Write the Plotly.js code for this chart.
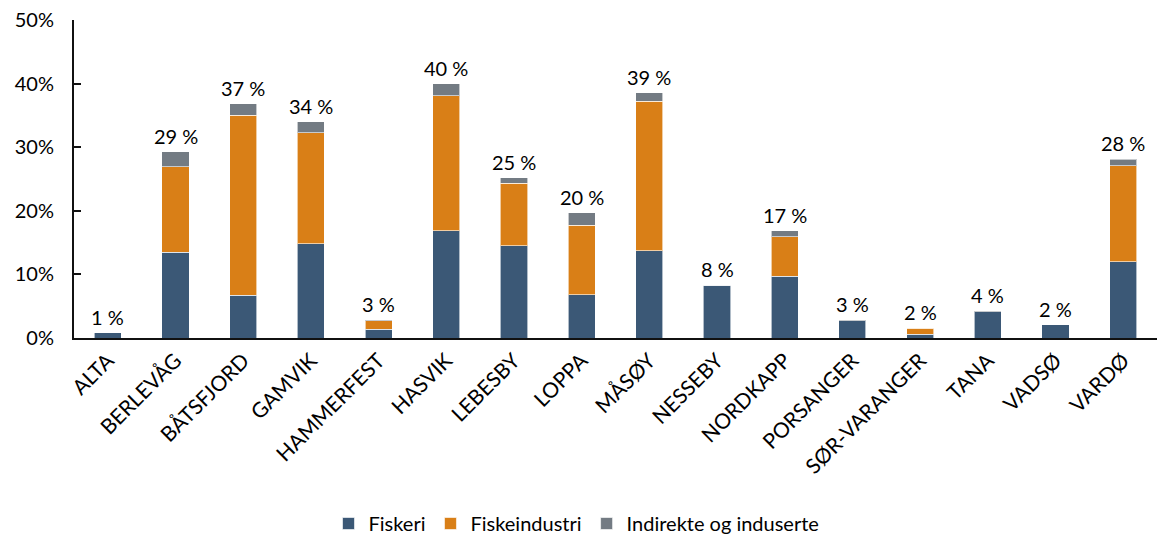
<!DOCTYPE html>
<html>
<head>
<meta charset="utf-8">
<script src="https://cdn.plot.ly/plotly-3.0.1.min.js"></script>
<style>html,body{margin:0;padding:0;background:#fff;}#chart{width:1157px;height:543px;}</style>
</head>
<body>
<div id="chart"></div>
<script>
const categories = ["ALTA","BERLEVÅG","BÅTSFJORD","GAMVIK","HAMMERFEST","HASVIK","LEBESBY","LOPPA","MÅSØY","NESSEBY","NORDKAPP","PORSANGER","SØR-VARANGER","TANA","VADSØ","VARDØ"];
const fiskeri       = [0.008,0.135,0.067,0.148,0.014,0.169,0.145,0.068,0.137,0.083,0.097,0.027,0.006,0.041,0.021,0.120];
const fiskeindustri = [0.000,0.134,0.283,0.175,0.013,0.212,0.098,0.109,0.235,0.000,0.062,0.000,0.009,0.000,0.000,0.151];
const indirekte     = [0.000,0.0235,0.018,0.017,0.0015,0.019,0.009,0.020,0.014,0.000,0.010,0.001,0.0015,0.0015,0.000,0.010];
const totalLabels   = ["1 %","29 %","37 %","34 %","3 %","40 %","25 %","20 %","39 %","8 %","17 %","3 %","2 %","4 %","2 %","28 %"];
const yTickVals = [0,0.1,0.2,0.3,0.4,0.5];
const yTickText = ["0%","10%","20%","30%","40%","50%"];

const totals = categories.map((c,i)=>fiskeri[i]+fiskeindustri[i]+indirekte[i]);
const font = "Lato, 'Open Sans', sans-serif";
const line = {color:"rgba(255,255,255,0.6)", width:1};
const traces = [
  {type:"bar", name:"Fiskeri", x:categories, y:fiskeri, marker:{color:"#3B5876", line:line}, hoverinfo:"skip"},
  {type:"bar", name:"Fiskeindustri", x:categories, y:fiskeindustri, marker:{color:"#D97F17", line:line}, hoverinfo:"skip"},
  {type:"bar", name:"Indirekte og induserte", x:categories, y:indirekte, marker:{color:"#737B83", line:line}, hoverinfo:"skip"}
];
const annotations = categories.map((c,i)=>({
  x:c, y:totals[i], xref:"x", yref:"y", text:totalLabels[i], showarrow:false,
  yanchor:"bottom", yshift:2, font:{family:font, size:20, color:"#000"}
}));
const layout = {
  width:1157, height:543,
  margin:{l:74, r:0, t:20, b:202.5},
  barmode:"stack", bargap:0.6,
  paper_bgcolor:"#fff", plot_bgcolor:"#fff",
  font:{family:font, size:20, color:"#000"},
  annotations:annotations,
  xaxis:{type:"category", range:[-0.5,15.5], showline:true, linecolor:"#111", linewidth:2, tickangle:-45,
         tickfont:{family:font, size:21, color:"#000"}, showgrid:false, ticks:"", fixedrange:true},
  yaxis:{range:[0,0.5], tickvals:yTickVals, ticktext:yTickText, showline:true, linecolor:"#111", linewidth:2,
         ticks:"inside", ticklen:7, tickwidth:2, tickcolor:"#111", showgrid:false, zeroline:false,
         ticklabelstandoff:14,
         tickfont:{family:font, size:20, color:"#000"}, fixedrange:true},
  legend:{orientation:"h", x:0.464, xanchor:"center", y:-0.585, yanchor:"middle", itemwidth:30,
          font:{family:font, size:20, color:"#000"}, traceorder:"normal"},
  showlegend:true
};
Plotly.newPlot("chart", traces, layout, {displayModeBar:false, staticPlot:true});
</script>
</body>
</html>
